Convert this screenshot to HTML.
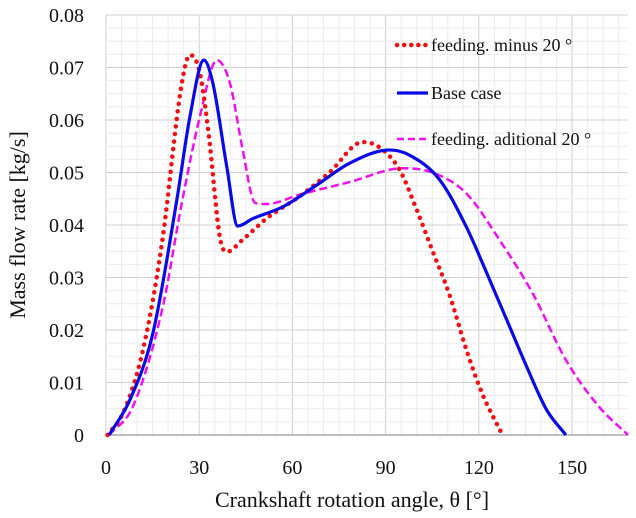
<!DOCTYPE html>
<html><head><meta charset="utf-8"><style>
html,body{margin:0;padding:0;background:#fff;}
svg{display:block;font-family:"Liberation Serif",serif;}
</style></head><body>
<svg id="chart" width="636" height="518" viewBox="0 0 636 518" xmlns="http://www.w3.org/2000/svg">
<g id="grid"></g>
<g id="axes"></g>
<g id="series"></g>
<text x="0" y="0" transform="translate(25,225) rotate(-90)" text-anchor="middle" font-size="22" fill="#111">Mass flow rate [kg/s]</text>
<text x="352" y="507" text-anchor="middle" font-size="22" fill="#111">Crankshaft rotation angle, θ [°]</text>
<g font-size="18" fill="#111">
 <g>
  <line x1="397" y1="45" x2="428" y2="45" stroke="#ee1111" stroke-width="4.5" stroke-dasharray="0.1 7" stroke-linecap="round"/>
  <text x="431" y="51">feeding. minus 20 °</text></g>
 <g>
  <line x1="397" y1="93" x2="428" y2="93" stroke="#0a0ae6" stroke-width="3.2"/>
  <text x="431" y="99">Base case</text></g>
 <g>
  <line x1="397" y1="139" x2="428" y2="139" stroke="#ee11ee" stroke-width="2.5" stroke-dasharray="7 4"/>
  <text x="431" y="145">feeding. aditional 20 °</text></g>
</g>
</svg>
<script>
const xTicks = [0, 30, 60, 90, 120, 150];
const yTicks = [0, 0.01, 0.02, 0.03, 0.04, 0.05, 0.06, 0.07, 0.08];
const yTickLabels = ["0", "0.01", "0.02", "0.03", "0.04", "0.05", "0.06", "0.07", "0.08"];
const redX = [0.5, 5.5, 11.9, 18, 24.4, 27, 30.2, 33, 36.7, 38.9, 44, 51.8, 62.4, 71.9, 82.6, 88, 94.5, 100, 105, 110.6, 116, 121, 127.6];
const redY = [0, 0.0042, 0.0162, 0.0365, 0.067, 0.0724, 0.069, 0.0575, 0.0375, 0.0349, 0.0372, 0.0413, 0.0455, 0.050, 0.0558, 0.0548, 0.0505, 0.0429, 0.0352, 0.0266, 0.0162, 0.008, 0];
const blueX = [1, 7.7, 15.1, 22.8, 27, 31.5, 34.4, 38.9, 42.4, 47.2, 57, 67.8, 78.5, 91.3, 97.7, 107.4, 116, 122.5, 129, 135.4, 141.8, 148];
const blueY = [0, 0.0067, 0.0194, 0.0448, 0.0606, 0.0714, 0.067, 0.051, 0.0398, 0.0412, 0.0435, 0.0476, 0.0518, 0.0543, 0.0533, 0.0486, 0.0396, 0.0309, 0.0219, 0.013, 0.0048, 0];
const magX = [1, 8.7, 18.3, 24.4, 30.2, 35.7, 39.9, 44, 48, 51.8, 62.4, 78.5, 95.5, 105, 116, 126.7, 137.3, 148, 158.8, 168];
const magY = [0, 0.0055, 0.0245, 0.0442, 0.0606, 0.0714, 0.067, 0.0543, 0.0442, 0.044, 0.0458, 0.0482, 0.0508, 0.050, 0.046, 0.0371, 0.027, 0.0143, 0.0053, 0];

const X0 = 106, X1 = 628, XMAX = 168, Y0 = 435, Y1 = 15, YMAX = 0.08;
const sx = v => X0 + (X1 - X0) * v / XMAX;
const sy = v => Y0 - (Y0 - Y1) * v / YMAX;
const NS = "http://www.w3.org/2000/svg";
function mk(tag, attrs, parent) { const e = document.createElementNS(NS, tag); for (const k in attrs) e.setAttribute(k, attrs[k]); parent.appendChild(e); return e; }
const grid = document.getElementById('grid'), axes = document.getElementById('axes'), series = document.getElementById('series');
for (let d = 0; d <= XMAX; d += 5) {
  const l = mk('line', {x1: sx(d), x2: sx(d), y1: Y1, y2: Y0, stroke: d % 30 === 0 ? '#d0d0d0' : '#ececec', 'stroke-width': 1}, grid);
  
  
}
for (let i = 0; i <= 32; i++) {
  const v = i * 0.0025;
  const l = mk('line', {x1: X0, x2: X1, y1: sy(v), y2: sy(v), stroke: i % 4 === 0 ? '#d0d0d0' : '#ececec', 'stroke-width': 1}, grid);
  
  
}
const ax = mk('line', {x1: X0, x2: X1, y1: Y0, y2: Y0, stroke: '#a8a8a8', 'stroke-width': 1.5}, axes);


xTicks.forEach(t => {
  const e = mk('text', {x: sx(t), y: 474, 'text-anchor': 'middle', 'font-size': 20, fill: '#111'}, axes);
  e.textContent = t;
  
  
});
yTicks.forEach((t, i) => {
  const e = mk('text', {x: 84, y: sy(t) + 7, 'text-anchor': 'end', 'font-size': 20, fill: '#111'}, axes);
  e.textContent = yTickLabels[i];
  
  
});
// monotone cubic (Fritsch-Carlson) path
function pathFrom(xs, ys) {
  const n = xs.length, px = xs.map(sx), py = ys.map(sy);
  const dx = [], m = [], t = new Array(n);
  for (let i = 0; i < n - 1; i++) { dx[i] = px[i+1] - px[i]; m[i] = (py[i+1] - py[i]) / dx[i]; }
  t[0] = m[0]; t[n-1] = m[n-2];
  for (let i = 1; i < n - 1; i++) t[i] = (m[i-1] * m[i] <= 0) ? 0 : (m[i-1] + m[i]) / 2;
  for (let i = 0; i < n - 1; i++) {
    if (m[i] === 0) { t[i] = 0; t[i+1] = 0; continue; }
    const a = t[i] / m[i], b = t[i+1] / m[i], s = a*a + b*b;
    if (s > 9) { const k = 3 / Math.sqrt(s); t[i] = k*a*m[i]; t[i+1] = k*b*m[i]; }
  }
  let d = 'M' + px[0] + ',' + py[0];
  for (let i = 0; i < n - 1; i++) {
    const h = dx[i] / 3;
    d += ' C' + (px[i]+h) + ',' + (py[i]+t[i]*h) + ' ' + (px[i+1]-h) + ',' + (py[i+1]-t[i+1]*h) + ' ' + px[i+1] + ',' + py[i+1];
  }
  return d;
}
const mg = mk('path', {d: pathFrom(magX, magY), fill: 'none', stroke: '#ee11ee', 'stroke-width': 2.5, 'stroke-dasharray': '8 4'}, series);


const r = mk('path', {d: pathFrom(redX, redY), fill: 'none', stroke: '#ee1111', 'stroke-width': 4.5, 'stroke-dasharray': '0.1 7.5', 'stroke-linecap': 'round'}, series);


const b = mk('path', {d: pathFrom(blueX, blueY), fill: 'none', stroke: '#0a0ae6', 'stroke-width': 3.2}, series);


</script>
</body></html>
